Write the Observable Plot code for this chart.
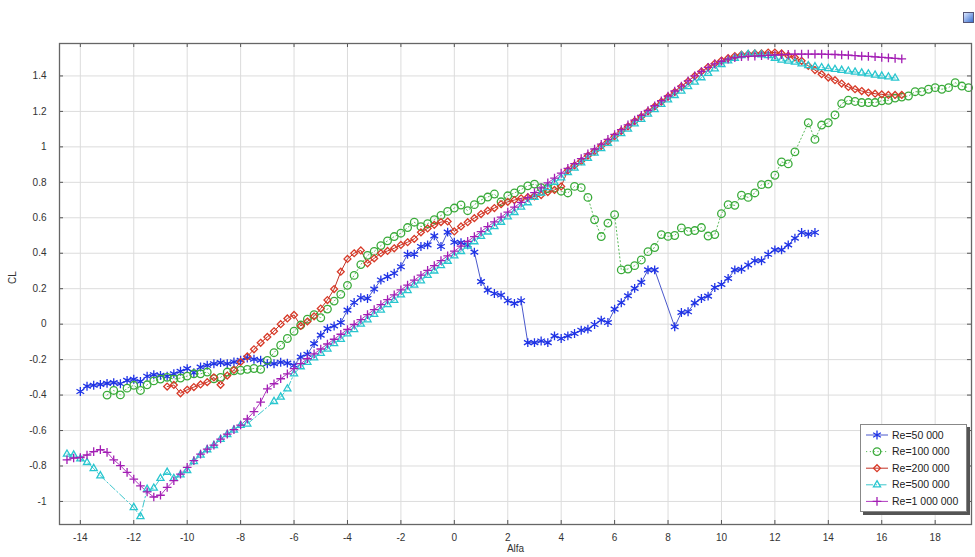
<!DOCTYPE html>
<html><head><meta charset="utf-8">
<script src="https://cdn.jsdelivr.net/npm/d3@7"></script>
<script src="https://cdn.jsdelivr.net/npm/@observablehq/plot@0.6"></script>
<style>
body{margin:0;background:#fff;font-family:"Liberation Sans",Arial,sans-serif;}
#wrap{position:relative;width:975px;height:557px;overflow:hidden;}
#legend{position:absolute;left:860px;top:424px;width:105px;height:86px;background:#fff;border:1px solid #888;box-shadow:3px 3px 0 #555;}
#icon{position:absolute;left:963px;top:12px;width:9px;height:9px;border:1px solid #557;background:linear-gradient(135deg,#dde8ff,#3a6fd0);}
</style></head><body><div id="wrap"></div>
<script>
// Tick values
const xTicks = [-14,-12,-10,-8,-6,-4,-2,0,2,4,6,8,10,12,14,16,18];
const yTicks = [-1,-0.8,-0.6,-0.4,-0.2,0,0.2,0.4,0.6,0.8,1,1.2,1.4];

// Series names
const names = ["Re=50 000","Re=100 000","Re=200 000","Re=500 000","Re=1 000 000"];

// [Alfa, CL] pairs
const re50k = [[-14,-0.38],[-13.75,-0.35],[-13.5,-0.345],[-13.25,-0.34],[-13,-0.334],[-12.75,-0.33],[-12.5,-0.336],[-12.25,-0.317],[-12,-0.311],[-11.75,-0.323],[-11.5,-0.294],[-11.25,-0.285],[-11,-0.289],[-10.75,-0.294],[-10.5,-0.28],[-10.25,-0.266],[-10,-0.251],[-9.75,-0.274],[-9.5,-0.242],[-9.25,-0.232],[-9,-0.223],[-8.75,-0.217],[-8.5,-0.223],[-8.25,-0.213],[-8,-0.204],[-7.75,-0.191],[-7.5,-0.198],[-7.25,-0.204],[-7,-0.223],[-6.75,-0.223],[-6.5,-0.215],[-6.25,-0.22],[-6,-0.232],[-5.75,-0.185],[-5.5,-0.17],[-5.25,-0.11],[-5,-0.062],[-4.75,-0.025],[-4.5,-0.01],[-4.25,0.009],[-4,0.079],[-3.75,0.122],[-3.5,0.149],[-3.25,0.145],[-3,0.198],[-2.75,0.249],[-2.5,0.268],[-2.25,0.287],[-2,0.324],[-1.75,0.394],[-1.5,0.394],[-1.25,0.438],[-1,0.447],[-0.75,0.498],[-0.5,0.438],[-0.25,0.519],[0,0.462],[0.25,0.46],[0.5,0.447],[0.75,0.406],[1,0.24],[1.25,0.192],[1.5,0.173],[1.75,0.164],[2,0.132],[2.25,0.117],[2.5,0.132],[2.75,-0.104],[3,-0.104],[3.25,-0.095],[3.5,-0.104],[3.75,-0.066],[4,-0.081],[4.25,-0.066],[4.5,-0.053],[4.75,-0.034],[5,-0.028],[5.25,-0.002],[5.5,0.023],[5.75,0.009],[6,0.085],[6.25,0.121],[6.5,0.16],[6.75,0.202],[7,0.236],[7.25,0.306],[7.5,0.306],[8.25,-0.015],[8.5,0.066],[8.75,0.07],[9,0.12],[9.25,0.145],[9.5,0.158],[9.75,0.207],[10,0.224],[10.25,0.258],[10.5,0.306],[10.75,0.31],[11,0.334],[11.25,0.358],[11.5,0.358],[11.75,0.394],[12,0.419],[12.25,0.419],[12.5,0.447],[12.75,0.485],[13,0.517],[13.25,0.508],[13.5,0.517]];

const re100k = [[-13,-0.4],[-12.75,-0.374],[-12.5,-0.399],[-12.25,-0.361],[-12,-0.345],[-11.75,-0.374],[-11.5,-0.342],[-11.25,-0.32],[-11,-0.31],[-10.75,-0.3],[-10.5,-0.31],[-10.25,-0.304],[-10,-0.293],[-9.75,-0.28],[-9.5,-0.28],[-9.25,-0.27],[-9,-0.308],[-8.75,-0.3],[-8.5,-0.27],[-8.25,-0.263],[-8,-0.26],[-7.75,-0.255],[-7.5,-0.25],[-7.25,-0.255],[-7,-0.204],[-6.75,-0.161],[-6.5,-0.119],[-6.25,-0.081],[-6,-0.04],[-5.75,-0.005],[-5.5,0.028],[-5.25,0.054],[-5,0.036],[-4.75,0.085],[-4.5,0.13],[-4.25,0.168],[-4,0.219],[-3.75,0.275],[-3.5,0.336],[-3.25,0.388],[-3,0.41],[-2.75,0.443],[-2.5,0.47],[-2.25,0.494],[-2,0.513],[-1.75,0.545],[-1.5,0.575],[-1.25,0.55],[-1,0.567],[-0.75,0.589],[-0.5,0.613],[-0.25,0.636],[0,0.655],[0.25,0.672],[0.5,0.64],[0.75,0.674],[1,0.7],[1.25,0.717],[1.5,0.734],[1.75,0.69],[2,0.724],[2.25,0.74],[2.5,0.759],[2.75,0.78],[3,0.79],[3.25,0.77],[3.5,0.765],[3.75,0.768],[4,0.75],[4.25,0.74],[4.5,0.777],[4.75,0.77],[5,0.715],[5.25,0.589],[5.5,0.494],[5.75,0.57],[6,0.617],[6.25,0.306],[6.5,0.311],[6.75,0.33],[7,0.362],[7.25,0.409],[7.5,0.432],[7.75,0.505],[8,0.495],[8.25,0.5],[8.5,0.543],[8.75,0.523],[9,0.528],[9.25,0.545],[9.5,0.497],[9.75,0.505],[10,0.623],[10.25,0.674],[10.5,0.67],[10.75,0.727],[11,0.715],[11.25,0.74],[11.5,0.787],[11.75,0.79],[12,0.84],[12.25,0.915],[12.5,0.904],[12.75,0.972],[13.25,1.136],[13.5,1.042],[13.75,1.123],[14,1.136],[14.25,1.18],[14.5,1.244],[14.75,1.263],[15,1.256],[15.25,1.25],[15.5,1.25],[15.75,1.25],[16,1.26],[16.25,1.263],[16.5,1.275],[16.75,1.281],[17,1.287],[17.25,1.311],[17.5,1.311],[17.75,1.325],[18,1.334],[18.25,1.325],[18.5,1.334],[18.75,1.362],[19,1.343],[19.25,1.334]];

const re200k = [[-10.75,-0.352],[-10.5,-0.343],[-10.25,-0.39],[-10,-0.37],[-9.75,-0.355],[-9.5,-0.34],[-9.25,-0.327],[-9,-0.3],[-8.75,-0.342],[-8.5,-0.29],[-8.25,-0.258],[-8,-0.213],[-7.75,-0.182],[-7.5,-0.142],[-7.25,-0.105],[-7,-0.072],[-6.75,-0.04],[-6.5,0],[-6.25,0.032],[-6,0.052],[-5.75,-0.01],[-5.5,0.015],[-5.25,0.044],[-5,0.088],[-4.75,0.136],[-4.5,0.198],[-4.25,0.296],[-4,0.368],[-3.75,0.4],[-3.5,0.416],[-3.25,0.343],[-3,0.371],[-2.75,0.4],[-2.5,0.413],[-2.25,0.428],[-2,0.447],[-1.75,0.462],[-1.5,0.481],[-1.25,0.518],[-1,0.54],[-0.75,0.56],[-0.5,0.576],[-0.25,0.579],[0,0.523],[0.25,0.551],[0.5,0.575],[0.75,0.598],[1,0.621],[1.25,0.64],[1.5,0.655],[1.75,0.677],[2,0.69],[2.25,0.7],[2.5,0.71],[2.75,0.716],[3,0.721],[3.25,0.728],[3.5,0.745],[3.75,0.757],[4,0.777],[4.25,0.868],[4.5,0.895],[4.75,0.92],[5,0.95],[5.25,0.975],[5.5,1.005],[5.75,1.03],[6,1.06],[6.25,1.09],[6.5,1.115],[6.75,1.145],[7,1.17],[7.25,1.2],[7.5,1.228],[7.75,1.255],[8,1.283],[8.25,1.31],[8.5,1.34],[8.75,1.37],[9,1.4],[9.25,1.425],[9.5,1.45],[9.75,1.47],[10,1.487],[10.25,1.5],[10.5,1.512],[10.75,1.52],[11,1.523],[11.25,1.527],[11.5,1.527],[11.75,1.532],[12,1.532],[12.25,1.527],[12.5,1.514],[12.75,1.504],[13,1.485],[13.25,1.457],[13.5,1.433],[13.75,1.41],[14,1.391],[14.25,1.376],[14.5,1.357],[14.75,1.338],[15,1.325],[15.25,1.315],[15.5,1.306],[15.75,1.3],[16,1.296],[16.25,1.293],[16.5,1.293],[16.75,1.293]];

const re500k = [[-14.5,-0.733],[-14.25,-0.738],[-14,-0.76],[-13.75,-0.78],[-13.5,-0.814],[-13.25,-0.855],[-12,-1.034],[-11.75,-1.085],[-11.5,-0.931],[-11.25,-0.925],[-11,-0.87],[-10.75,-0.835],[-10.5,-0.87],[-10.25,-0.85],[-10,-0.825],[-9.75,-0.775],[-9.5,-0.738],[-9.25,-0.708],[-9,-0.684],[-8.75,-0.65],[-8.5,-0.622],[-8.25,-0.597],[-8,-0.571],[-7.75,-0.563],[-6.75,-0.436],[-6.5,-0.411],[-6.25,-0.365],[-6,-0.28],[-5.75,-0.24],[-5.5,-0.215],[-5.25,-0.19],[-5,-0.165],[-4.75,-0.14],[-4.5,-0.11],[-4.25,-0.085],[-4,-0.055],[-3.75,-0.03],[-3.5,0],[-3.25,0.025],[-3,0.055],[-2.75,0.08],[-2.5,0.11],[-2.25,0.135],[-2,0.165],[-1.75,0.19],[-1.5,0.22],[-1.25,0.245],[-1,0.275],[-0.75,0.3],[-0.5,0.33],[-0.25,0.355],[0,0.385],[0.25,0.41],[0.5,0.44],[0.75,0.465],[1,0.495],[1.25,0.52],[1.5,0.55],[1.75,0.575],[2,0.605],[2.25,0.63],[2.5,0.66],[2.75,0.685],[3,0.715],[3.25,0.74],[3.5,0.77],[3.75,0.8],[4,0.825],[4.25,0.855],[4.5,0.88],[4.75,0.91],[5,0.935],[5.25,0.965],[5.5,0.99],[5.75,1.02],[6,1.045],[6.25,1.075],[6.5,1.1],[6.75,1.13],[7,1.155],[7.25,1.185],[7.5,1.21],[7.75,1.24],[8,1.265],[8.25,1.29],[8.5,1.315],[8.75,1.34],[9,1.365],[9.25,1.39],[9.5,1.415],[9.75,1.44],[10,1.465],[10.25,1.485],[10.5,1.5],[10.75,1.515],[11,1.522],[11.25,1.523],[11.5,1.52],[11.75,1.515],[12,1.5],[12.25,1.49],[12.5,1.484],[12.75,1.478],[13,1.468],[13.25,1.458],[13.5,1.452],[13.75,1.447],[14,1.442],[14.25,1.437],[14.5,1.432],[14.75,1.427],[15,1.422],[15.25,1.417],[15.5,1.412],[15.75,1.405],[16,1.4],[16.25,1.395],[16.5,1.388]];

const re1M = [[-14.5,-0.765],[-14.25,-0.755],[-14,-0.752],[-13.75,-0.738],[-13.5,-0.719],[-13.25,-0.708],[-13,-0.723],[-12.75,-0.765],[-12.5,-0.798],[-12.25,-0.836],[-12,-0.874],[-11.75,-0.912],[-11.5,-0.946],[-11.25,-0.975],[-11,-0.965],[-10.75,-0.921],[-10.5,-0.883],[-10.25,-0.846],[-10,-0.808],[-9.75,-0.77],[-9.5,-0.733],[-9.25,-0.705],[-9,-0.682],[-8.75,-0.648],[-8.5,-0.62],[-8.25,-0.595],[-8,-0.569],[-7.75,-0.535],[-7.5,-0.493],[-7.25,-0.44],[-7,-0.365],[-6.75,-0.336],[-6.5,-0.308],[-6.25,-0.28],[-6,-0.251],[-5.75,-0.223],[-5.5,-0.195],[-5.25,-0.168],[-5,-0.14],[-4.75,-0.112],[-4.5,-0.085],[-4.25,-0.057],[-4,-0.03],[-3.75,-0.002],[-3.5,0.026],[-3.25,0.054],[-3,0.082],[-2.75,0.11],[-2.5,0.138],[-2.25,0.165],[-2,0.193],[-1.75,0.22],[-1.5,0.248],[-1.25,0.276],[-1,0.303],[-0.75,0.33],[-0.5,0.358],[-0.25,0.385],[0,0.412],[0.25,0.44],[0.5,0.467],[0.75,0.494],[1,0.522],[1.25,0.55],[1.5,0.577],[1.75,0.604],[2,0.632],[2.25,0.66],[2.5,0.687],[2.75,0.714],[3,0.742],[3.25,0.769],[3.5,0.797],[3.75,0.824],[4,0.852],[4.25,0.879],[4.5,0.906],[4.75,0.934],[5,0.961],[5.25,0.988],[5.5,1.015],[5.75,1.042],[6,1.07],[6.25,1.097],[6.5,1.124],[6.75,1.151],[7,1.178],[7.25,1.205],[7.5,1.232],[7.75,1.26],[8,1.287],[8.25,1.315],[8.5,1.343],[8.75,1.372],[9,1.4],[9.25,1.425],[9.5,1.448],[9.75,1.468],[10,1.483],[10.25,1.495],[10.5,1.503],[10.75,1.508],[11,1.51],[11.25,1.512],[11.5,1.514],[11.75,1.516],[12,1.518],[12.25,1.52],[12.5,1.522],[12.75,1.523],[13,1.523],[13.25,1.523],[13.5,1.523],[13.75,1.523],[14,1.522],[14.25,1.521],[14.5,1.519],[14.75,1.517],[15,1.515],[15.25,1.512],[15.5,1.51],[15.75,1.508],[16,1.505],[16.25,1.502],[16.5,1.499],[16.75,1.496]];

// Styles
const styles = [
  {data: re50k,  mark: "#1f33e6", line: "#4a58cc", symbol: "asterisk",  r: 4.2, dash: null},
  {data: re100k, mark: "#3aab3a", line: "#5cbb5c", symbol: "circle",    r: 3.8, dash: "1.2,2.6"},
  {data: re200k, mark: "#d83a28", line: "#c23226", symbol: "diamond2",  r: 3.1, dash: null},
  {data: re500k, mark: "#28c6cf", line: "#3cc6cc", symbol: "triangle2", r: 3.4, dash: "7,2.5,1.5,2.5"},
  {data: re1M,   mark: "#a31eb4", line: "#b03cc0", symbol: "plus",      r: 2.9, dash: null}
];

const W = 975, H = 557, mL = 59, mR = 4, mT = 43, mB = 33;
const pW = W - mL - mR, pH = H - mT - mB;
const fmtY = d => String(Math.round(d * 10) / 10);

const marks = [
  Plot.gridX(xTicks, {stroke: "#dcdcdc", strokeOpacity: 1, strokeWidth: 1}),
  Plot.gridY(yTicks, {stroke: "#dcdcdc", strokeOpacity: 1, strokeWidth: 1}),
  Plot.ruleX(xTicks, {stroke: "#555", insetTop: pH - 4}),
  Plot.ruleX(xTicks, {stroke: "#555", insetBottom: pH - 4}),
  Plot.ruleY(yTicks, {stroke: "#555", insetLeft: pW - 4}),
  Plot.ruleY(yTicks, {stroke: "#555", insetRight: pW - 4}),
  Plot.axisX(xTicks, {tickSize: 0, tickPadding: 9, tickFormat: d => String(d), label: null, fill: "#333"}),
  Plot.axisY(yTicks, {tickSize: 0, tickPadding: 13, tickFormat: fmtY, label: null, fill: "#333"})
];
for (const s of styles) {
  marks.push(Plot.line(s.data, {x: d => d[0], y: d => d[1], stroke: s.line, strokeWidth: 1, strokeDasharray: s.dash}));
}
for (const s of styles) {
  marks.push(Plot.dot(s.data, {x: d => d[0], y: d => d[1], symbol: s.symbol, r: s.r, stroke: s.mark, fill: "none", strokeWidth: 1.3}));
}
marks.push(Plot.frame({stroke: "#666", strokeWidth: 1.3}));
marks.push(Plot.text(["CL"], {frameAnchor: "left", dx: -47, rotate: -90, fontSize: 10, fill: "#333"}));
marks.push(Plot.text(["Alfa"], {frameAnchor: "bottom", dy: 27, fontSize: 10, fill: "#333"}));

const chart = Plot.plot({
  width: W, height: H,
  marginLeft: mL, marginRight: mR, marginTop: mT, marginBottom: mB,
  style: {fontFamily: "'Liberation Sans', Arial, sans-serif", fontSize: "10px", background: "#fff", color: "#333"},
  x: {domain: [-14.78, 19.36]},
  y: {domain: [-1.13, 1.583]},
  marks
});
const wrap = document.getElementById("wrap");
wrap.appendChild(chart);

// Legend overlay
const leg = document.createElement("div");
leg.id = "legend";
wrap.appendChild(leg);
const symMap = {asterisk: d3.symbolAsterisk, circle: d3.symbolCircle, diamond2: d3.symbolDiamond2, triangle2: d3.symbolTriangle2, plus: d3.symbolPlus};
const lsvg = d3.select(leg).append("svg").attr("width", 105).attr("height", 86)
  .style("font-family", "'Liberation Sans', Arial, sans-serif").style("font-size", "10.5px");
styles.forEach((s, i) => {
  const y = 10 + i * 16.6;
  lsvg.append("line").attr("x1", 5).attr("x2", 27).attr("y1", y).attr("y2", y)
    .attr("stroke", s.line).attr("stroke-width", 1).attr("stroke-dasharray", s.dash);
  lsvg.append("path").attr("d", d3.symbol(symMap[s.symbol], Math.PI * s.r * s.r)())
    .attr("transform", `translate(16,${y})`).attr("fill", "none").attr("stroke", s.mark).attr("stroke-width", 1.3);
  lsvg.append("text").attr("x", 31).attr("y", y).attr("dy", "0.35em").attr("fill", "#222").text(names[i]);
});
const icon = document.createElement("div");
icon.id = "icon";
wrap.appendChild(icon);
</script></body></html>
